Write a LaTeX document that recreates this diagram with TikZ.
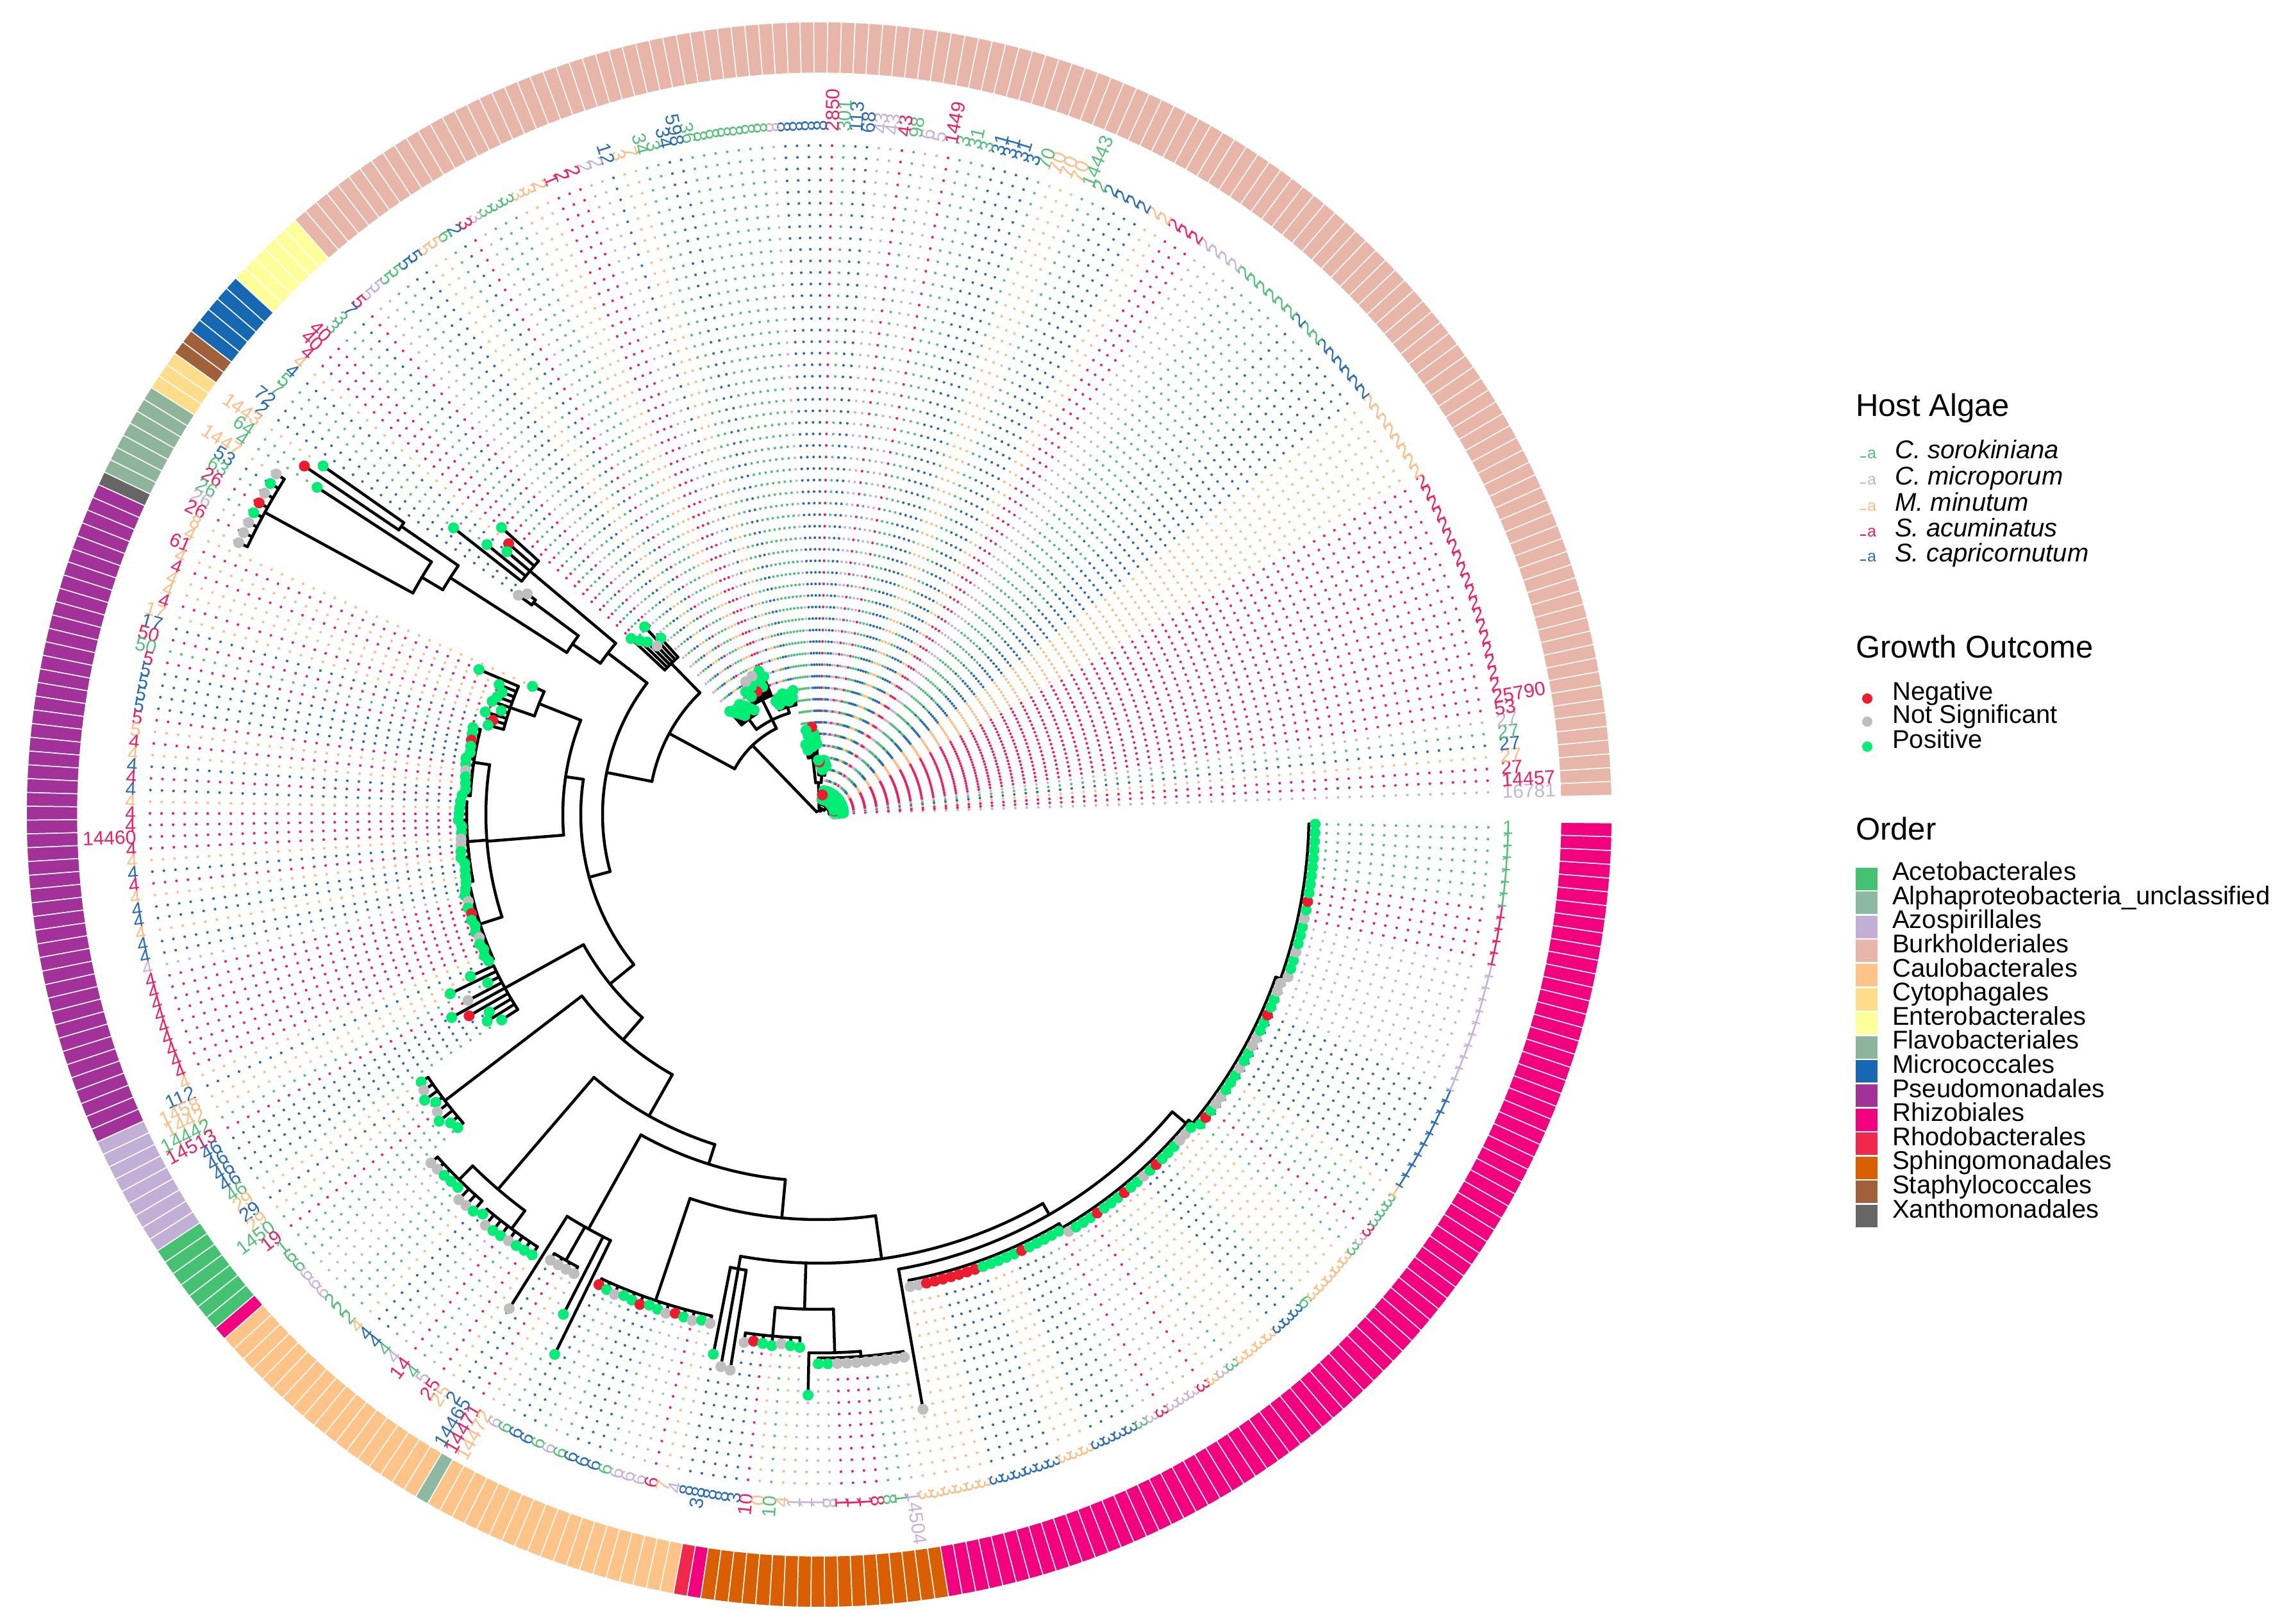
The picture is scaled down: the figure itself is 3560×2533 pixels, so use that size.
\documentclass[tikz,border=0pt]{standalone}
\usepackage{fontspec}
\setmainfont{Liberation Sans}
\definecolor{hg}{HTML}{55C07A}
\definecolor{hl}{HTML}{C5B3DD}
\definecolor{ho}{HTML}{FDBE85}
\definecolor{hp}{HTML}{F21E62}
\definecolor{hb}{HTML}{2A6CB6}
\definecolor{oG}{HTML}{00EE76}
\definecolor{oR}{HTML}{EE1B2E}
\definecolor{oY}{HTML}{BEBEBE}
\definecolor{cAceto}{HTML}{45C172}
\definecolor{cAlpha}{HTML}{8DB9A2}
\definecolor{cAzo}{HTML}{C2AFD6}
\definecolor{cBurk}{HTML}{E7B6A8}
\definecolor{cCaulo}{HTML}{FDC387}
\definecolor{cCyto}{HTML}{FDDC8A}
\definecolor{cEntero}{HTML}{FFFF99}
\definecolor{cFlavo}{HTML}{8EB59C}
\definecolor{cMicro}{HTML}{1768B3}
\definecolor{cPseudo}{HTML}{A2319A}
\definecolor{cRhizo}{HTML}{F2027E}
\definecolor{cRhodo}{HTML}{F0284C}
\definecolor{cSphingo}{HTML}{D95F02}
\definecolor{cStaph}{HTML}{A0603A}
\definecolor{cXantho}{HTML}{666666}
\newcommand\labfont{\fontsize{30}{30}\selectfont}
\newcommand\legafont{\fontsize{25}{25}\selectfont}
\newcommand\legtitle{\fontsize{49}{52}\selectfont}
\newcommand\legitem{\fontsize{40}{42}\selectfont}
\newcommand\setr[4]{\foreach \kk in {#1,...,#2}{\pgfmathtruncatemacro\tmp{#4}\expandafter\xdef\csname rt\kk\endcsname{\tmp}\expandafter\xdef\csname rp\kk\endcsname{#3}}}
\newcommand\setl[2]{\foreach \kk/\vv in {#2}{\expandafter\xdef\csname rt\kk\endcsname{\vv}\expandafter\xdef\csname rp\kk\endcsname{#1}}}
\newcommand\tarc[3]{\draw[branch] (#2:#1pt) arc[start angle=#2, end angle=#3, radius=#1pt];}
\newcommand\trad[3]{\draw[branch] (#1:#2pt) -- (#1:#3pt);}
\tikzset{
  branch/.style={line width=4.5pt, black, line cap=round},
  dotl/.style={line width=4.2pt, line cap=round, dash pattern=on 0pt off 18pt},
  lab/.style={font=\labfont, inner sep=0pt},
  ringseg/.style={draw=white, line width=1.5pt},
  legtxt/.style={font=\legitem, inner sep=0pt, anchor=mid west}
}
\def\tiplist{0/l/16781/G,1/p/14457/G,2/p/27/G,3/o/27/Y,4/b/27/G,5/g/27/G,6/l/27/G,7/p/53/G,8/p/25790/G,
9/p/2/G,10/p/2/G,11/p/2/G,12/p/2/R,13/p/2/G,14/p/2/G,15/p/2/G,16/p/2/G,17/p/2/G,18/p/2/G,19/p/2/G,20/p/2/G,21/p/2/G,22/p/2/G,23/p/2/G,24/p/2/G,25/p/2/G,26/p/2/G,27/p/2/G,
28/o/2/G,29/o/2/G,30/o/2/G,31/o/2/G,32/o/2/G,33/o/2/G,34/o/2/G,35/o/2/G,
36/b/2/G,37/b/2/G,38/b/2/G,39/b/2/G,40/b/2/G,41/b/2/G,42/g/2/G,43/g/2/G,44/b/2/G,
45/g/2/G,46/g/2/G,47/g/2/G,48/g/2/G,49/g/2/G,50/g/2/G,51/l/2/G,52/l/2/G,53/l/2/G,54/l/2/G,
55/p/2/G,56/p/2/G,57/p/2/G,58/o/2/G,59/o/2/G,60/b/2/G,61/b/2/G,62/b/2/G,63/b/2/G,64/g/2/G,65/g/14443/G,
66/o/70/G,67/o/70/G,68/o/70/G,69/g/70/G,70/b/3/G,71/b/31/G,72/b/31/G,73/b/31/G,74/g/3/G,75/g/31/G,76/g/3/G,
77/p/1449/G,78/l/5/G,79/l/6/R,80/g/98/G,81/p/43/G,82/l/43/G,83/l/43/G,84/b/68/G,85/b/113/G,86/g/301/G,87/p/2850/G,
88/b/8/R,89/b/8/G,90/b/8/G,91/b/8/G,92/l/8/G,93/g/8/R,94/g/8/G,95/g/8/G,96/g/8/G,97/g/8/G,98/g/8/G,99/g/36/G,
100/b/598/G,101/b/34/G,102/g/3/G,103/g/34/G,104/o/7/G,105/o/3/G,106/b/12/G,107/l/2/G,108/l/2/G,109/p/2/G,
110/p/2/G,111/p/1/G,112/o/2/G,113/o/3/G,114/o/3/Y,115/g/3/R,116/g/3/G,117/g/3/Y,118/l/3/G,119/p/3/G,
120/b/2/G,121/g/6/G,122/o/5/G,123/o/5/G,124/b/5/G,125/b/5/G,126/g/5/G,127/g/5/G,128/l/5/G,129/l/5/G,
130/p/5/G,131/b/7/G,132/g/3/Y,133/g/3/G,134/p/40/G,135/p/40/G,
136/p/4/G,137/o/4/R,138/b/4/G,139/g/5/G,140/g/7/G,141/b/72/Y,142/b/2/Y,143/o/1443/G,144/g/64/R,145/g/4/G,
146/o/1447/Y,147/b/53/G,148/g/63/Y,149/p/26/R,150/g/26/G,151/l/26/Y,152/p/26/Y,153/o/8/Y,
154/o/4/G,155/p/61/G,156/o/4/G,157/p/4/G,158/o/4/G,159/o/4/G,160/p/4/G,161/o/17/G,162/b/17/R,163/p/50/G,
164/g/50/G,165/p/5/G,166/b/5/R,167/b/5/G,168/b/5/G,169/b/5/G,170/p/5/G,171/o/5/Y,172/p/4/G,173/o/4/G,174/b/4/G,175/p/4/G,
176/b/4/G,177/o/4/G,178/p/4/G,179/p/4/G,180/p/14460/G,181/p/4/G,182/o/4/Y,183/b/4/Y,184/p/4/G,185/o/4/G,186/b/4/G,187/b/4/G,188/o/4/G,189/b/4/G,
190/b/4/G,191/l/4/G,192/p/4/Y,193/p/4/G,194/p/4/R,195/p/4/G,196/p/4/G,197/p/4/G,198/p/4/Y,199/p/4/G,200/p/4/G,201/o/4/G,202/b/112/G,
203/o/1458/G,204/o/1442/G,205/g/14442/G,206/p/14513/Y,207/b/46/G,208/b/46/R,209/b/46/G,210/b/46/G,211/g/46/G,
212/o/29/G,213/b/29/Y,214/o/29/G,215/g/1450/G,216/p/19/Y,217/g/1/G,218/g/6/G,219/g/6/G,
220/l/6/Y,221/l/6/Y,222/l/6/G,223/g/2/G,224/g/2/G,225/g/2/Y,226/o/4/Y,227/b/4/G,228/b/4/G,229/g/4/Y,230/l/4/G,231/p/14/G,232/g/4/Y,233/l/5/G,234/p/25/G,235/o/25/G,
236/b/2/Y,237/b/14465/Y,238/p/14471/Y,239/o/14472/Y,240/l/6/Y,241/g/6/G,242/b/6/G,
243/b/6/R,244/g/6/G,245/l/6/Y,246/g/6/G,247/b/6/G,248/b/6/R,249/b/6/G,250/g/6/G,251/l/6/Y,252/l/6/R,253/l/6/G,254/p/6/Y,255/o/7/G,256/l/4/Y,
257/b/8/G,258/b/38/Y,259/b/8/Y,
260/b/8/Y,261/b/3/R,262/p/10/G,263/o/0/G,264/g/10/Y,265/o/4/G,266/l/1/G,267/l/1/G,
268/l/1/G,269/l/8/G,270/p/1/Y,271/p/1/Y,272/p/1/Y,273/p/8/Y,274/g/8/Y,275/g/1/Y,276/l/14504/Y,277/o/3/Y,
278/o/3/Y,279/o/3/Y,280/o/3/Y,281/o/3/R,282/o/3/R,283/b/3/R,284/b/3/R,285/b/3/R,286/b/3/R,287/b/3/R,288/b/3/G,
289/o/3/G,290/o/3/G,291/o/3/G,292/b/3/G,293/b/3/R,294/b/3/G,295/b/3/G,296/g/3/G,297/l/3/G,298/p/3/G,
299/l/3/Y,300/l/3/G,301/l/3/G,302/p/3/G,303/o/3/R,304/l/3/G,305/g/3/G,306/o/3/G,307/o/3/R,308/o/3/G,309/o/3/G,
310/b/3/Y,311/b/3/G,312/b/3/R,313/g/6/G,314/o/3/G,315/o/3/G,316/o/3/Y,317/o/3/Y,318/o/3/G,319/g/3/G,320/l/3/R,321/p/3/G,
322/g/3/Y,323/g/3/Y,324/g/3/G,325/o/1/G,
326/b/1/G,327/b/1/Y,328/b/1/G,329/b/1/G,330/b/1/Y,331/b/1/Y,332/b/1/G,333/b/1/G,334/b/1/R,
335/l/1/G,336/l/1/G,337/l/1/Y,338/l/1/Y,339/l/1/Y,340/l/1/G,341/l/1/G,342/l/1/Y,343/l/1/G,344/l/1/G,345/l/1/G,
346/p/1/Y,347/p/1/G,348/p/1/R,349/p/1/G,350/p/1/G,
351/g/1/G,352/g/1/G,353/g/1/G,354/g/1/G,355/g/1/G,356/g/1/G,357/g/1/G}
\begin{document}
\begin{tikzpicture}[x=1pt,y=1pt]
\fill[white] (-1278,-1262) rectangle (2282,1271);
\useasboundingbox (-1278,-1262) rectangle (2282,1271);
% ---- tip radii (rt) and parent radii (rp)
\setr{0}{79}{16}{24+mod(7*\kk,21)}
\setr{80}{89}{62}{70+mod(3*\kk,18)}
\setr{90}{99}{90}{100+mod(9*\kk,40)}
\setr{100}{109}{175}{182+mod(7*\kk,18)}
\setr{110}{119}{200}{210+mod(11*\kk,36)}
\setr{120}{129}{185}{192+mod(5*\kk,24)}
\setl{330}{130/370,131/400,132/365,133/380,134/390,135/402}
\setl{590}{136/668,137/643,138/637,139/668,140/725}
\setl{555}{141/571,142/581}
\setl{792}{143/946,144/970}
\setl{722}{145/935}
\setr{146}{153}{985}{1000}
\setl{470}{154/490}
\setl{510}{155/577,156/539,157/530,158/535,159/540,160/522,161/545,162/530,163/535}
\setr{164}{175}{545}{553+mod(5*\kk,6)}
\setr{176}{189}{550}{558+mod(7*\kk,6)}
\setr{190}{202}{556}{564+mod(3*\kk,6)}
\setl{560}{203/600,204/640,205/580,206/620,207/655,208/630,209/600,210/610,211/590}
\setl{735}{212/748,213/752,214/760,215/748,216/755,217/762,218/750,219/746}
\setr{220}{227}{800}{810+mod(13*\kk,14)}
\setr{228}{235}{805}{815+mod(11*\kk,12)}
\setl{740}{236/910,241/876,242/938}
\setr{237}{240}{800}{812}
\setr{243}{256}{800}{810+2*mod(\kk,3)}
\setl{720}{257/858,258/875,259/878}
\setr{260}{266}{817}{828+2*mod(\kk,3)}
\setl{840}{267/906}
\setr{268}{277}{848}{857}
\setl{720}{278/942}
\setr{279}{298}{740}{750}
\setr{299}{318}{748}{758}
\setr{319}{338}{756}{766}
\setr{339}{357}{764}{774}
% ---- dotted tip lines
\foreach \kk/\hc/\lab/\oc in \tiplist {
  \pgfmathsetmacro\tht{1.9+\kk}
  \edef\rt{\csname rt\kk\endcsname}
  \pgfmathsetmacro\rs{18*ceil((\rt+8)/18)}
  \draw[dotl, h\hc] (\tht:\rs pt) -- (\tht:1062pt);
}
% ---- tree: internal branches
\tarc{6}{66.4}{134}
\trad{66.4}{6}{10} \tarc{10}{41.4}{91.4}
\trad{41.4}{10}{16} \tarc{16}{1.9}{80.9}
\trad{91.4}{10}{50} \tarc{50}{86.4}{96.4}
\trad{86.4}{50}{62} \tarc{62}{81.9}{90.9}
\trad{96.4}{50}{90} \tarc{90}{91.9}{100.9}
\trad{134}{6}{150} \tarc{150}{116.4}{151.6}
\trad{116.4}{150}{165} \tarc{165}{106.4}{126.4}
\trad{106.4}{165}{175} \tarc{175}{101.9}{110.9}
\trad{116.4}{165}{200} \tarc{200}{111.9}{120.9}
\trad{126.4}{165}{185} \tarc{185}{121.9}{130.9}
\trad{151.6}{150}{266} \tarc{266}{134.4}{168.8}
\trad{134.4}{266}{330} \tarc{330}{131.9}{136.9}
\trad{168.8}{266}{338} \tarc{338}{142.6}{195.25}
\trad{142.6}{338}{415} \tarc{415}{139.9}{145.35}
\trad{139.9}{415}{590} \tarc{590}{137.9}{141.9}
\trad{145.35}{415}{468} \tarc{468}{143.4}{147.3}
\trad{143.4}{468}{555} \tarc{555}{142.9}{143.9}
\trad{147.3}{468}{684} \tarc{684}{145.4}{149.15}
\trad{145.4}{684}{792} \tarc{792}{144.9}{145.9}
\trad{149.15}{684}{722} \tarc{722}{146.9}{151.4}
\trad{151.4}{722}{985} \tarc{985}{147.9}{154.9}
\trad{195.25}{338}{372} \tarc{372}{171.5}{219}
\trad{171.5}{372}{400} \tarc{400}{158.4}{184.6}
\trad{158.4}{400}{470} \tarc{470}{155.9}{160.9}
\trad{160.9}{470}{510} \tarc{510}{156.9}{164.9}
\trad{184.6}{400}{520} \tarc{520}{171.4}{197.9}
\trad{171.4}{520}{545} \tarc{545}{165.9}{176.9}
\trad{184.4}{520}{550} \tarc{550}{177.9}{190.9}
\trad{197.9}{520}{556} \tarc{556}{191.9}{203.9}
\trad{219}{372}{420} \tarc{420}{208.9}{228.95}
\trad{208.9}{420}{560} \tarc{560}{204.9}{212.9}
\trad{228.95}{420}{466} \tarc{466}{217.4}{240.55}
\trad{217.4}{466}{735} \tarc{735}{213.9}{220.9}
\trad{240.55}{466}{540} \tarc{540}{229.4}{252.45}
\trad{229.4}{540}{770} \tarc{770}{225.4}{233.4}
\trad{225.4}{770}{800} \tarc{800}{221.9}{228.9}
\trad{233.4}{770}{805} \tarc{805}{229.9}{236.9}
\trad{252.45}{540}{572} \tarc{572}{240.9}{264.7}
\trad{240.9}{572}{740} \tarc{740}{237.9}{243.9}
\trad{240.4}{740}{800} \tarc{800}{238.9}{241.9}
\trad{264.7}{572}{632} \tarc{632}{251.4}{278}
\trad{251.4}{632}{800} \tarc{800}{244.9}{257.9}
\trad{278}{632}{700} \tarc{700}{259.9}{299.9}
\trad{259.9}{700}{720} \tarc{720}{258.9}{260.9}
\trad{268.3}{700}{772} \tarc{772}{264.9}{271.65}
\trad{264.9}{772}{817} \tarc{817}{261.9}{267.9}
\trad{271.65}{772}{840} \tarc{840}{268.9}{274.4}
\trad{274.4}{840}{848} \tarc{848}{269.9}{278.9}
\trad{299.9}{700}{720} \tarc{720}{279.9}{319.9}
\trad{319.9}{720}{748}
\tarc{740}{280.9}{300.4} \trad{300.4}{740}{748}
\tarc{748}{300.4}{320.4} \trad{320.4}{748}{756}
\tarc{756}{320.4}{340.4} \trad{340.4}{756}{764}
\tarc{764}{340.4}{358.9}
% ---- tree: tip branches
\foreach \kk/\hc/\lab/\oc in \tiplist {
  \pgfmathsetmacro\tht{1.9+\kk}
  \edef\rt{\csname rt\kk\endcsname}\edef\rp{\csname rp\kk\endcsname}
  \draw[branch] (\tht:\rp pt) -- (\tht:\rt pt);
}
% ---- outcome points
\foreach \kk/\hc/\lab/\oc in \tiplist {
  \pgfmathsetmacro\tht{1.9+\kk}
  \edef\rt{\csname rt\kk\endcsname}
  \fill[o\oc] (\tht:\rt pt) circle[radius=8.5pt];
}
% ---- tip labels
\foreach \kk/\hc/\lab/\oc in \tiplist {
  \pgfmathsetmacro\tht{1.9+\kk}
  \def\rot{\tht}\def\anc{west}
  \ifdim\tht pt>90pt \ifdim\tht pt<270pt \def\rot{\tht-180}\def\anc{east}\fi\fi
  \node[lab, text=h\hc, rotate=\rot, anchor=\anc] (lab\kk) at (\tht:1066pt) {\lab};
}
% ---- order ring
\foreach \aa/\bb/\cc in {0/129/cBurk,130/135/cEntero,136/140/cMicro,141/142/cStaph,143/145/cCyto,146/152/cFlavo,153/153/cXantho,154/202/cPseudo,203/211/cAzo,212/218/cAceto,219/219/cRhizo,220/237/cCaulo,238/238/cAlpha,239/257/cCaulo,258/258/cRhodo,259/259/cRhizo,260/277/cSphingo,278/357/cRhizo} {
  \foreach \kk in {\aa,...,\bb} {
    \pgfmathsetmacro\ta{1.4+\kk}\pgfmathsetmacro\tb{2.4+\kk}
    \filldraw[ringseg, fill=\cc] (\ta:1157pt) arc[start angle=\ta, end angle=\tb, radius=1157pt] -- (\tb:1237pt) arc[start angle=\tb, end angle=\ta, radius=1237pt] -- cycle;
  }
}
% ---- legend: host algae
\node[font=\legtitle, inner sep=0pt, anchor=mid west] (tHost) at (1617,624) {Host Algae};
\foreach \yy/\hc/\nm [count=\i] in {558/g/C. sorokiniana,517/l/C. microporum,476/o/M. minutum,436/p/S. acuminatus,397/b/S. capricornutum} {
  \draw[h\hc, line width=2.5pt] (1624,\yy) -- (1633,\yy);
  \node[font=\legafont, inner sep=0pt, text=h\hc, anchor=mid west] (ha\i) at (1635,\yy) {a};
  \node[legtxt, font=\legitem\itshape] (hn\i) at (1678,\yy) {\nm};
}
% ---- legend: growth outcome
\node[font=\legtitle, inner sep=0pt, anchor=mid west] (tGrowth) at (1617,247) {Growth Outcome};
\foreach \yy/\oc/\nm [count=\i] in {181/R/Negative,145/Y/Not Significant,106/G/Positive} {
  \fill[o\oc] (1635,\yy) circle[radius=8pt];
  \node[legtxt] (gn\i) at (1674,\yy) {\nm};
}
% ---- legend: order
\node[font=\legtitle, inner sep=0pt, anchor=mid west] (tOrder) at (1617,-37) {Order};
\foreach \cc/\nm [count=\i from 0] in {cAceto/Acetobacterales,cAlpha/Alphaproteobacteria\_unclassified,cAzo/Azospirillales,cBurk/Burkholderiales,cCaulo/Caulobacterales,cCyto/Cytophagales,cEntero/Enterobacterales,cFlavo/Flavobacteriales,cMicro/Micrococcales,cPseudo/Pseudomonadales,cRhizo/Rhizobiales,cRhodo/Rhodobacterales,cSphingo/Sphingomonadales,cStaph/Staphylococcales,cXantho/Xanthomonadales} {
  \pgfmathsetmacro\yy{-100-37.6*\i}
  \fill[\cc] (1617,\yy-17.5) rectangle (1651,\yy+17.5);
  \node[legtxt] (on\i) at (1674,\yy) {\nm};
}
\end{tikzpicture}
\end{document}
